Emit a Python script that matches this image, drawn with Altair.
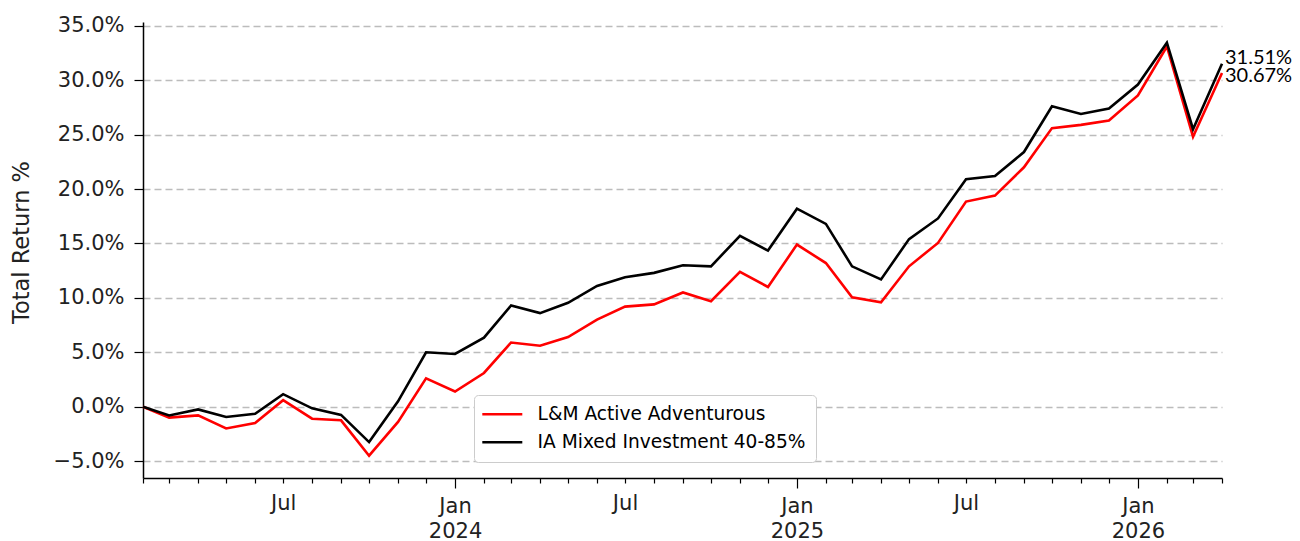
import altair as alt
import pandas as pd

# ---- data ----
dates = pd.date_range("2023-02-01", periods=39, freq="MS")
series_names = ["L&M Active Adventurous", "IA Mixed Investment 40-85%"]
series_colors = ["#ff0000", "#000000"]

lm_values = [0.0, -1.0, -0.8, -2.0, -1.5, 0.6, -1.1, -1.25, -4.5, -1.4,
             2.6, 1.4, 3.1, 5.9, 5.6, 6.4, 8.0, 9.2, 9.4, 10.5,
             9.7, 12.4, 11.0, 14.9, 13.2, 10.05, 9.6, 12.9, 15.05, 18.85,
             19.4, 22.0, 25.6, 25.9, 26.3, 28.6, 33.1, 24.8, 30.67]
ia_values = [0.0, -0.8, -0.25, -0.95, -0.65, 1.15, -0.15, -0.75, -3.25, 0.5,
             5.0, 4.85, 6.35, 9.3, 8.6, 9.55, 11.1, 11.9, 12.3, 13.0,
             12.9, 15.7, 14.35, 18.2, 16.8, 12.9, 11.7, 15.4, 17.3, 20.9,
             21.2, 23.4, 27.6, 26.9, 27.4, 29.6, 33.45, 25.5, 31.51]

y_ticks = [-5, 0, 5, 10, 15, 20, 25, 30, 35]
y_domain = [-6.55, 35.35]

n = len(dates)
df = pd.DataFrame({
    "date": list(dates) * 2,
    "series": [series_names[0]] * n + [series_names[1]] * n,
    "value": lm_values + ia_values,
})
end_df = pd.DataFrame({
    "date": [dates[-1], dates[-1]],
    "series": series_names,
    "value": [lm_values[-1], ia_values[-1]],
    "label": [f"{lm_values[-1]:.2f}%", f"{ia_values[-1]:.2f}%"],
})

month_ticks = [alt.DateTime(year=int(d.year), month=int(d.month), date=1) for d in dates]
x_domain = [alt.DateTime(year=int(dates[0].year), month=int(dates[0].month), date=1),
            alt.DateTime(year=int(dates[-1].year), month=int(dates[-1].month), date=1)]

is_jan = "month(datum.value) == 0"

x_axis = alt.Axis(
    values=month_ticks,
    title=None,
    grid=False,
    tickSize={"condition": {"test": is_jan, "value": 10}, "value": 5},
    labelPadding={"condition": {"test": is_jan, "value": 7}, "value": 9},
    labelExpr="month(datum.value) == 0 ? ['Jan', timeFormat(datum.value, '%Y')] : (month(datum.value) == 6 ? 'Jul' : '')",
    labelOverlap=False,
    labelFontSize=21,
    labelLineHeight=25,
    labelBaseline="top",
    labelAlign="center",
    labelFlush=False,
    domainColor="black",
    domainWidth=1.5,
    tickColor="black",
    tickWidth=1.2,
)

y_axis = alt.Axis(
    values=y_ticks,
    labelExpr="format(datum.value, '.1f') + '%'",
    title="Total Return %",
    titleFontSize=22.5,
    titleFontWeight="normal",
    titlePadding=20,
    titleY=220,
    labelFontSize=21,
    labelPadding=10,
    tickSize=9,
    tickColor="black",
    tickWidth=1.2,
    domainColor="black",
    domainWidth=1.5,
    grid=True,
    gridDash=[7, 4],
    gridColor="#bcbcbc",
    gridWidth=1.3,
)

x_enc = alt.X("date:T", scale=alt.Scale(domain=x_domain, nice=False), axis=x_axis)
y_enc = alt.Y("value:Q", scale=alt.Scale(domain=y_domain, nice=False, zero=False), axis=y_axis)
color_enc = alt.Color(
    "series:N",
    scale=alt.Scale(domain=series_names, range=series_colors),
    legend=alt.Legend(
        orient="none", legendX=331, legendY=373, title=None,
        padding=10, fillColor="white", strokeColor="#cccccc", cornerRadius=4,
        labelFontSize=18.6, labelFont="DejaVu Sans", labelLimit=0,
        symbolType="M-2.2,0H5.8", symbolSize=100, symbolStrokeWidth=2.6,
        labelOffset=35, rowPadding=9,
    ),
)

lines = []
for name in series_names:
    lines.append(
        alt.Chart(df)
        .transform_filter(alt.datum.series == name)
        .mark_line(strokeWidth=2.6)
        .encode(x=x_enc, y=y_enc, color=color_enc)
    )

label_offsets = {series_names[0]: 3, series_names[1]: -6}
texts = []
for name in series_names:
    texts.append(
        alt.Chart(end_df)
        .transform_filter(alt.datum.series == name)
        .mark_text(align="left", baseline="middle", dx=3, dy=label_offsets[name],
                   font="Lato", fontSize=20, color="black")
        .encode(x=x_enc, y=y_enc, text="label:N")
    )

chart = (
    alt.layer(*lines, *texts)
    .properties(
        width=1079, height=456,
        padding={"left": 135, "top": 14, "right": 70, "bottom": 62},
        autosize=alt.AutoSizeParams(type="none"),
        background="white",
    )
    .configure_view(stroke=None)
    .configure_axis(labelFont="DejaVu Sans", titleFont="DejaVu Sans",
                    labelColor="#222222", titleColor="#222222")
)

chart.save("out.html", embed_options={"renderer": "svg", "actions": False})
